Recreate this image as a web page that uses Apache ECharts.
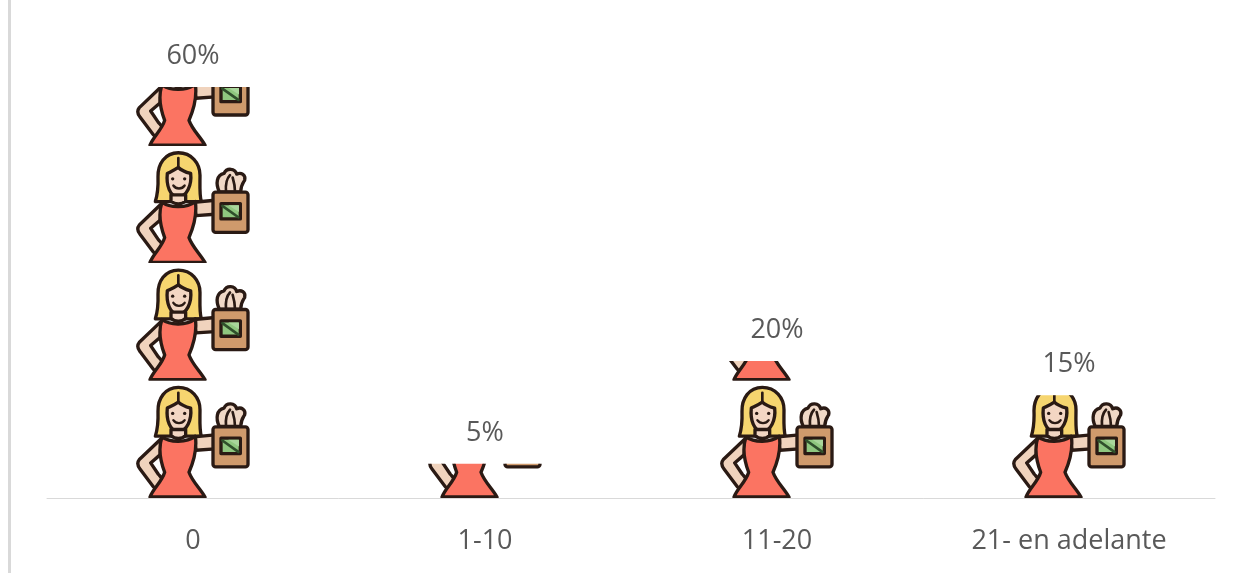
<!DOCTYPE html>
<html>
<head>
<meta charset="utf-8">
<style>
html,body{margin:0;padding:0;background:#fff;overflow:hidden}
#wrap{position:absolute;left:8px;top:0;width:1239px;height:573px;border-left:3px solid #d9d9d9;box-sizing:border-box}
#chart{position:absolute;left:-11px;top:0;width:1247px;height:573px}
</style>
<script src="https://cdn.jsdelivr.net/npm/echarts@6/dist/echarts.min.js"></script>
</head>
<body>
<div id="wrap"><div id="chart"></div></div>
<script>
const categories = ['0', '1-10', '11-20', '21- en adelante'];
const values = [60, 5, 20, 15];

const ink = '#2a1a14';
const iconSvg = `<svg xmlns="http://www.w3.org/2000/svg" viewBox="43.5 18 351 351" width="351" height="351">
<g stroke="${ink}" stroke-width="10" stroke-linejoin="round" stroke-linecap="round">
<path d="M175 38C135 38 113 72 114 110C115 140 112 165 106 184L244 184C238 165 240 135 240 105C240 70 215 38 175 38Z" fill="#f6d56f"/>
<path d="M175 54L175 82" fill="none" stroke-width="8"/>
<path d="M175 82C160 92 152 95 142 100C138 135 150 170 175 170C200 170 216 135 212 100C197 96 185 92 175 82Z" fill="#f3d6c3"/>
<path d="M153 164L153 182C165 194 185 194 197 182L197 164Z" fill="#f3d6c3"/>
<path d="M125 190L58 254C50 264 52 272 60 282L100 335C110 348 134 340 132 322C130 312 122 306 115 298L92 264L120 240Z" fill="#f0d3bd"/>
<path d="M222 186L285 180L285 222L228 226Z" fill="#f0d3bd"/>
<path d="M126 186C150 204 200 204 226 184C232 225 220 262 207 292C217 320 240 340 255 366L90 366C100 340 126 320 134 292C120 255 114 220 126 186Z" fill="#fb7462"/>
<path d="M298 155C286 130 290 105 312 100C320 82 345 84 350 102C364 96 378 104 374 120C370 128 364 130 362 155Z" fill="#f0d8c6"/>
<path d="M318 155C316 130 320 115 330 105M345 155C345 140 342 125 338 112" fill="none" stroke-width="8"/>
<rect x="279" y="156" width="105" height="120" rx="8" fill="#cf9a6c"/>
<rect x="303" y="190" width="58" height="46" fill="#8fc77f"/>
<path d="M307 197L355 231" stroke="#2f4f2b" stroke-width="8"/>
<path d="M325 195L357 195L357 215Z" fill="#a9d69b" stroke="none"/>
</g>
<g fill="${ink}" stroke="none">
<circle cx="158" cy="116" r="5"/><circle cx="194" cy="116" r="5"/>
</g>
<path d="M160 136C168 148 186 148 194 136" fill="none" stroke="${ink}" stroke-width="7" stroke-linecap="round"/>
</svg>`;
const iconImage = 'image://data:image/svg+xml;charset=utf-8,' + encodeURIComponent(iconSvg);

const chart = echarts.init(document.getElementById('chart'), null, {renderer: 'canvas'});
const textFont = '"Open Sans","Noto Sans",sans-serif';
chart.setOption({
  animation: false,
  backgroundColor: 'transparent',
  grid: {left: 47, right: 32, top: 87, bottom: 75},
  xAxis: {
    type: 'category',
    data: categories,
    axisTick: {show: false},
    axisLine: {lineStyle: {color: '#d9d9d9', width: 1}},
    axisLabel: {color: '#595959', fontFamily: textFont, fontSize: 27, margin: 30, interval: 0}
  },
  yAxis: {type: 'value', min: 0, max: 60, show: false, splitLine: {show: false}},
  series: [{
    type: 'pictorialBar',
    data: values,
    symbol: iconImage,
    symbolRepeat: 4,
    symbolClip: true,
    symbolBoundingData: 68.5,
    symbolSize: [117, 117.3],
    symbolMargin: 0,
    barWidth: 117,
    z: 2,
    label: {show: false}
  }, {
    type: 'bar',
    data: values,
    barWidth: 117,
    barGap: '-100%',
    itemStyle: {color: 'transparent'},
    silent: true,
    z: 3,
    label: {
      show: true, position: 'top', distance: 17,
      formatter: '{c}%', color: '#595959', fontFamily: textFont, fontSize: 27
    }
  }]
});
</script>
</body>
</html>
